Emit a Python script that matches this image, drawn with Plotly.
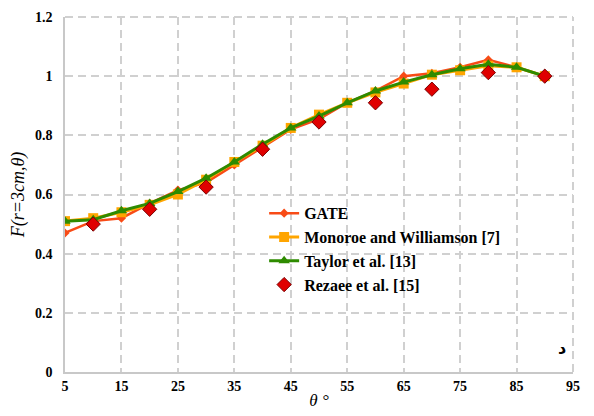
import plotly.graph_objects as go

theta = [5, 10, 15, 20, 25, 30, 35, 40, 45, 50, 55, 60, 65, 70, 75, 80, 85, 90]
gate = [0.47, 0.51, 0.52, 0.57, 0.615, 0.64, 0.70, 0.76, 0.82, 0.855, 0.91, 0.95, 1.0, 1.01, 1.03, 1.055, 1.03, 1.0]
monroe = [0.51, 0.52, 0.54, 0.565, 0.60, 0.65, 0.71, 0.765, 0.825, 0.87, 0.91, 0.945, 0.975, 1.005, 1.02, 1.035, 1.03, 1.0]
taylor = [0.51, 0.515, 0.545, 0.57, 0.61, 0.655, 0.71, 0.77, 0.825, 0.865, 0.91, 0.95, 0.98, 1.005, 1.025, 1.04, 1.03, 1.0]
theta_rez = [10, 20, 30, 40, 50, 60, 70, 80, 90]
rezaee = [0.50, 0.55, 0.625, 0.753, 0.845, 0.91, 0.956, 1.012, 1.0]

x_ticks = [5, 15, 25, 35, 45, 55, 65, 75, 85, 95]
y_ticks = [0, 0.2, 0.4, 0.6, 0.8, 1.0, 1.2]
y_ticklabels = ["0", "0.2", "0.4", "0.6", "0.8", "1", "1.2"]

GRID = "#D0D0D0"

fig = go.Figure()
fig.add_trace(go.Scatter(x=theta, y=gate, mode="lines+markers", name="GATE",
                         line=dict(color="#F84B16", width=2.5),
                         marker=dict(symbol="diamond", size=7, color="#F84B16")))
fig.add_trace(go.Scatter(x=theta, y=monroe, mode="lines+markers", name="Monoroe and Williamson [7]",
                         line=dict(color="#FFA500", width=3),
                         marker=dict(symbol="square", size=10, color="#FFA500")))
fig.add_trace(go.Scatter(x=theta, y=taylor, mode="lines+markers", name="Taylor et al. [13]",
                         line=dict(color="#2E8B00", width=3),
                         marker=dict(symbol="triangle-up", size=10, color="#2E8B00")))
fig.add_trace(go.Scatter(x=theta_rez, y=rezaee, mode="markers", name="Rezaee et al. [15]",
                         marker=dict(symbol="diamond", size=11, color="#E00000",
                                     line=dict(color="#7A0000", width=1))))

# dashed top and right borders (grid at the range edges)
fig.add_shape(type="line", xref="paper", yref="paper", x0=0, x1=1, y0=1, y1=1,
              line=dict(color=GRID, width=2, dash="8px,5px"), layer="below")
fig.add_shape(type="line", xref="paper", yref="paper", x0=1, x1=1, y0=0, y1=1,
              line=dict(color=GRID, width=2, dash="8px,5px"), layer="below")

fig.add_annotation(x=93.1, y=0.08, text="د", showarrow=False,
                   font=dict(family="DejaVu Sans", size=16, color="#000000", weight="bold"))

fig.update_layout(
    width=594, height=416,
    margin=dict(l=57, r=29, t=9, b=52),
    paper_bgcolor="white", plot_bgcolor="white",
    font=dict(family="Liberation Serif", color="#000000"),
    legend=dict(x=0.392, y=0.495, xanchor="left", yanchor="top",
                bgcolor="rgba(0,0,0,0)", tracegroupgap=0, itemwidth=30,
                font=dict(family="Liberation Serif", size=16, weight="bold")),
    xaxis=dict(range=[5, 95], tickvals=x_ticks, ticktext=[str(v) for v in x_ticks],
               showgrid=True, gridcolor=GRID, griddash="8px,5px", gridwidth=2,
               showline=True, linecolor="#C8C8C8", linewidth=1.5, zeroline=False,
               ticks="", automargin=False,
               tickfont=dict(family="Liberation Serif", size=14, weight="bold"),
               title=dict(text="<i>θ °</i>", font=dict(family="Liberation Serif", size=17), standoff=2)),
    yaxis=dict(range=[0, 1.2], tickvals=y_ticks, ticktext=y_ticklabels,
               showgrid=True, gridcolor=GRID, griddash="8px,5px", gridwidth=2,
               showline=True, linecolor="#C8C8C8", linewidth=1.5, zeroline=False,
               ticks="", ticklabelstandoff=8, automargin=False,
               tickfont=dict(family="Liberation Serif", size=14, weight="bold"),
               title=dict(text="<i>F(r=3cm,θ)</i>", font=dict(family="Liberation Serif", size=18), standoff=6)),
)

fig.write_html("out.html")
